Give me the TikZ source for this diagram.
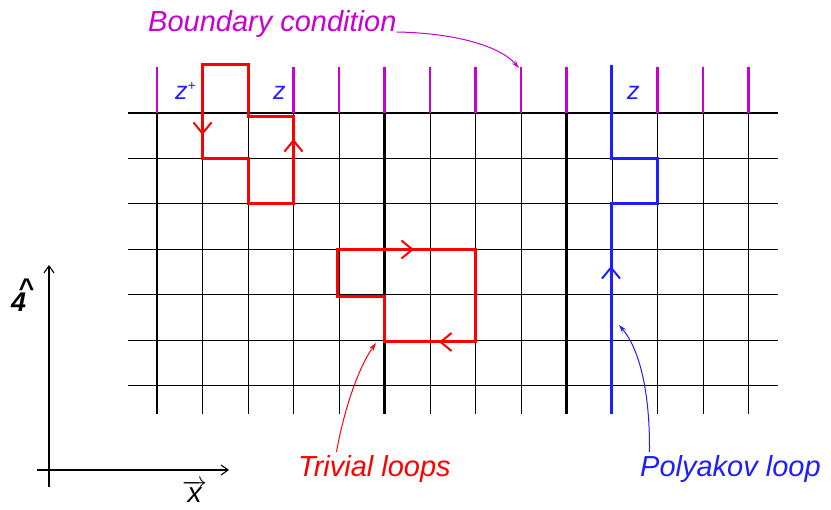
\documentclass[tikz,border=0pt]{standalone}
\usepackage{fontspec}
\setmainfont{Liberation Sans}
\usetikzlibrary{arrows.meta}
\definecolor{bcmag}{RGB}{200,0,210}
\definecolor{plblue}{RGB}{30,30,255}
\begin{document}
\begin{tikzpicture}[x=1pt,y=-1pt,
  gridline/.style={line width=1pt, black},
  thickline/.style={line width=2.3pt, black},
  bctick/.style={line width=2.4pt, bcmag},
  redloop/.style={line width=3pt, red, line join=miter},
  blueloop/.style={line width=3pt, plblue, line join=miter},
  lbl/.style={font=\fontsize{29}{34}\selectfont\itshape, inner sep=0pt},
  zlbl/.style={font=\fontsize{25}{30}\selectfont\itshape, inner sep=0pt, text=plblue},
  barb/.style={line width=2pt, -{Straight Barb[length=11pt,width=18pt,line width=2pt]}},
  annot/.style={line width=1pt, -{Stealth[length=8pt,width=5pt]}},
  axisline/.style={line width=1.2pt, black, -{Straight Barb[length=7pt,width=10pt,line width=1.1pt]}}
]
\useasboundingbox (0,0) rectangle (831,510);
% horizontal grid lines
\foreach \yy in {158.5,204,249.5,295,340.5,386}
  \draw[gridline] (128,\yy) -- (778,\yy);
\draw[thickline] (128,113) -- (778,113);
% vertical grid lines and boundary ticks
\foreach \i in {0,...,13}{
  \pgfmathsetmacro\xx{157+45.5*\i}
  \draw[gridline] (\xx,113) -- (\xx,414);
  \draw[bctick] (\xx,67) -- (\xx,113);
}
\foreach \i in {0,5,9}{
  \pgfmathsetmacro\xx{157+45.5*\i}
  \draw[thickline] (\xx,113) -- (\xx,414);
}
% trivial loop 1
\draw[redloop] (202.5,65) -- (202.5,158.5) -- (248,158.5) -- (248,204) -- (293.5,204)
  -- (293.5,117) -- (248,117) -- (248,65) -- cycle;
\draw[red, barb] (202.5,114) -- (202.5,135);
\draw[red, barb] (293.5,160) -- (293.5,139);
% trivial loop 2
\draw[redloop] (337,249.5) -- (475.5,249.5) -- (475.5,342) -- (384.5,342) -- (384.5,297)
  -- (337,297) -- cycle;
\draw[red, barb] (392,249.5) -- (414,249.5);
\draw[red, barb] (463,342) -- (439,342);
% Polyakov loop
\draw[blueloop] (611,65) -- (611,158.5) -- (657.5,158.5) -- (657.5,204) -- (611,204) -- (611,414);
\draw[plblue, barb] (611,292) -- (611,266);
% z labels
\node[zlbl, anchor=base west] (zp) at (175,100) {z$^{\mbox{\fontsize{14}{16}\selectfont +}}$};
\node[zlbl, anchor=base west] (z1) at (273,100) {z};
\node[zlbl, anchor=base west] (z2) at (627,100) {z};
% annotations
\node[lbl, text=bcmag, anchor=base west] (bc) at (148,32) {Boundary condition};
\coordinate (bct) at (519,68);
\draw[annot, bcmag] (bc.base east) .. controls (455,33) and (500,46) .. (bct);
\node[lbl, text=red, anchor=base west] (tl) at (298,477) {Trivial loops};
\coordinate (tlt) at (376,343);
\draw[annot, red] ([xshift=-38pt,yshift=4pt]tl.north) .. controls (345,405) and (360,365) .. (tlt);
\node[lbl, text=plblue, anchor=base west] (pl) at (640,477) {Polyakov loop};
\coordinate (plt) at (619,325);
\draw[annot, plblue] ([xshift=-81pt,yshift=4pt]pl.north) .. controls (650,400) and (642,352) .. (plt);
% axes
\coordinate (ya) at (49,487);
\coordinate (yb) at (49,265);
\coordinate (xa) at (37,470);
\coordinate (xb) at (229,470);
\draw[axisline] (ya) -- (yb);
\draw[axisline] (xa) -- (xb);
\node[font=\fontsize{27}{32}\selectfont\itshape\bfseries, inner sep=0pt, anchor=base west] (four) at (11,312)
  {\makebox[0pt][l]{\hspace{7pt}\raisebox{14pt}{\textasciicircum}}4};
\node[font=\fontsize{28}{32}\selectfont\itshape, inner sep=0pt, anchor=base west] (xv) at (182,503) {$\overrightarrow{\hbox{x}}$};
\end{tikzpicture}
\end{document}
